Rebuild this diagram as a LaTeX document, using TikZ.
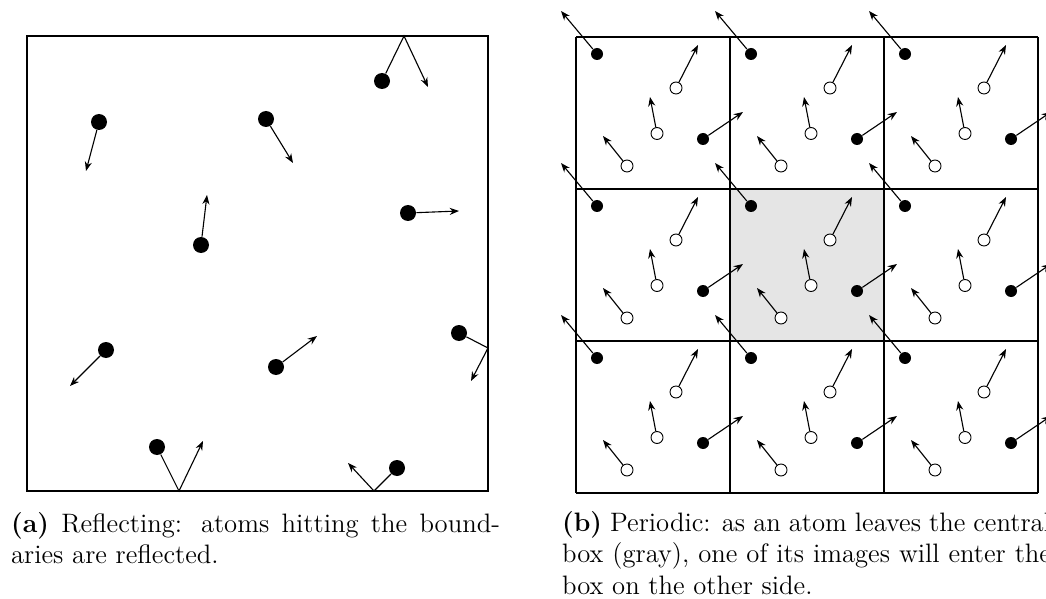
\documentclass[tikz,border=0pt]{standalone}
\usepackage{tikz}
\usetikzlibrary{arrows.meta}

\begin{document}
\begin{tikzpicture}[x=0.45pt,y=-0.45pt,
  atom/.style={circle,fill=black,inner sep=0pt,minimum size=7.2pt},
  imgatom/.style={circle,fill=black,inner sep=0pt,minimum size=5.4pt},
  ghost/.style={circle,draw,fill=white,inner sep=0pt,minimum size=5.4pt,line width=0.4pt},
  vel/.style={-{Stealth[length=4.2pt,width=3.2pt]},line width=0.5pt},
  wall/.style={line width=0.6pt},
  captxt/.style={text width=220pt,align=justify,inner sep=0pt,anchor=base west,font=\fontsize{12pt}{14.3pt}\selectfont}]
\useasboundingbox (0,0) rectangle (1046,599);
% (a) reflecting walls
\draw[wall] (27,36) rectangle (488,491);
\node[atom] (r1) at (382,81) {};   \coordinate (h1) at (404,36);  \coordinate (v1) at (428,87);
\node[atom] (r2) at (99,122) {};   \coordinate (v2) at (86,171);
\node[atom] (r3) at (266,119) {};  \coordinate (v3) at (293,163);
\node[atom] (r4) at (201,245) {};  \coordinate (v4) at (207,195);
\node[atom] (r5) at (408,213) {};  \coordinate (v5) at (459,211);
\node[atom] (r6) at (106,350) {};  \coordinate (v6) at (70,386);
\node[atom] (r7) at (276,367) {};  \coordinate (v7) at (317,336);
\node[atom] (r8) at (459,333) {};  \coordinate (h8) at (488,348); \coordinate (v8) at (471,381);
\node[atom] (r9) at (157,447) {};  \coordinate (h9) at (179,491); \coordinate (v9) at (203,441);
\node[atom] (r10) at (397,468) {}; \coordinate (h10) at (374,491); \coordinate (v10) at (348,463);
\draw[vel] (r1) -- (h1) -- (v1); \draw[vel] (r2) -- (v2); \draw[vel] (r3) -- (v3);
\draw[vel] (r4) -- (v4); \draw[vel] (r5) -- (v5); \draw[vel] (r6) -- (v6); \draw[vel] (r7) -- (v7);
\draw[vel] (r8) -- (h8) -- (v8); \draw[vel] (r9) -- (h9) -- (v9); \draw[vel] (r10) -- (h10) -- (v10);
% (b) periodic images
\fill[gray!20] (730,189) rectangle (884,341);
\foreach \k in {0,1,2,3} {
  \draw[wall] (576+154*\k,37) -- (576+154*\k,493);
  \draw[wall] (576,37+152*\k) -- (1038,37+152*\k);}
\foreach \i in {0,1,2} \foreach \j in {0,1,2} {
  \begin{scope}[shift={(576+154*\i,37+152*\j)}]
  \node[imgatom] (pa\i\j) at (21,17) {};  \coordinate (pva\i\j) at (-15,-26);
  \node[imgatom] (pb\i\j) at (127,102) {}; \coordinate (pvb\i\j) at (167,75);
  \node[ghost] (pc\i\j) at (100,51) {};   \coordinate (pvc\i\j) at (122,8);
  \node[ghost] (pd\i\j) at (81,96.5) {};  \coordinate (pvd\i\j) at (74,60);
  \node[ghost] (pe\i\j) at (51,129) {};   \coordinate (pve\i\j) at (27,99);
  \draw[vel] (pa\i\j) -- (pva\i\j); \draw[vel] (pb\i\j) -- (pvb\i\j);
  \draw[vel] (pc\i\j) -- (pvc\i\j); \draw[vel] (pd\i\j) -- (pvd\i\j); \draw[vel] (pe\i\j) -- (pve\i\j);
  \end{scope}}
% captions
\node[captxt] (capa) at (10.7,532) {\textbf{(a)} Reflecting: atoms hitting the bound-\linebreak aries are reflected.};
\node[captxt] (capb) at (561.7,531) {\textbf{(b)} Periodic: as an atom leaves the central\linebreak box (gray), one of its images will enter the\linebreak box on the other side.};
\end{tikzpicture}
\end{document}
